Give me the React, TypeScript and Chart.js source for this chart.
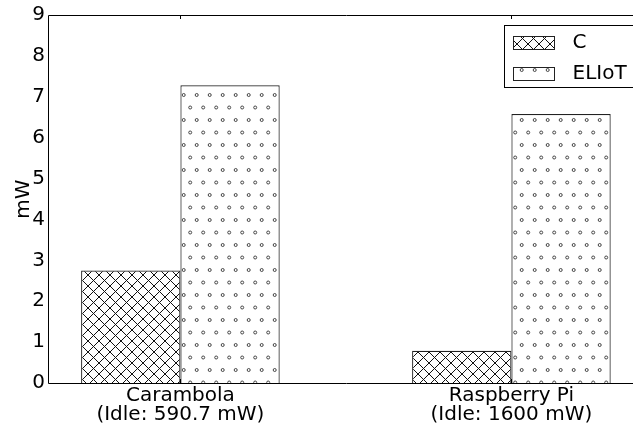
import React, { useEffect, useRef } from "react";
import { Chart, registerables } from "chart.js";

Chart.register(...registerables);

// ---- data ----
const categories: string[][] = [
  ["Carambola", "(Idle: 590.7 mW)"],
  ["Raspberry Pi", "(Idle: 1600 mW)"],
];
const categoryPositions = [0, 1];
const seriesNames = ["C", "ELIoT"];
const cValues = [2.75, 0.79];
const eliotValues = [7.28, 6.58];
const yTickValues = [0, 1, 2, 3, 4, 5, 6, 7, 8, 9];
const yAxisTitle = "mW";

const FONT = "'DejaVu Sans', 'Liberation Sans', sans-serif";

function makeCrossPattern(): CanvasPattern | string {
  const s = 11;
  const c = document.createElement("canvas");
  c.width = s;
  c.height = s;
  const g = c.getContext("2d");
  if (!g) return "#fff";
  g.fillStyle = "#fff";
  g.fillRect(0, 0, s, s);
  g.strokeStyle = "#111";
  g.lineWidth = 1;
  g.beginPath();
  g.moveTo(-1, -1);
  g.lineTo(s + 1, s + 1);
  g.moveTo(-1, s + 1);
  g.lineTo(s + 1, -1);
  g.stroke();
  return g.createPattern(c, "repeat") || "#fff";
}

function makeDotPattern(): CanvasPattern | string {
  const w = 13;
  const h = 25;
  const c = document.createElement("canvas");
  c.width = w;
  c.height = h;
  const g = c.getContext("2d");
  if (!g) return "#fff";
  g.fillStyle = "#fff";
  g.fillRect(0, 0, w, h);
  const dots = [
    [1.7, 20],
    [8.2, 7.5],
  ];
  g.strokeStyle = "#444";
  g.lineWidth = 1;
  for (const [dx, dy] of dots) {
    for (const ox of [-w, 0, w]) {
      for (const oy of [-h, 0, h]) {
        g.beginPath();
        g.arc(dx + ox, dy + oy, 1.5, 0, Math.PI * 2);
        g.fillStyle = "#fff";
        g.fill();
        g.stroke();
      }
    }
  }
  return g.createPattern(c, "repeat") || "#fff";
}

const framePlugin = {
  id: "frameAndLegend",
  afterDraw(chart: any) {
    const { ctx, chartArea } = chart;
    const { left, top, right, bottom } = chartArea;
    ctx.save();
    // frame
    ctx.strokeStyle = "#000";
    ctx.lineWidth = 1;
    ctx.beginPath();
    ctx.moveTo(Math.round(left) + 0.5, Math.round(bottom) + 0.5);
    ctx.lineTo(Math.round(left) + 0.5, Math.round(top) + 0.5);
    ctx.lineTo(Math.round(right) + 0.5, Math.round(top) + 0.5);
    ctx.lineTo(Math.round(right) + 0.5, Math.round(bottom) + 0.5);
    ctx.closePath();
    ctx.stroke();
    // x tick marks (inside)
    const xs = chart.scales.x;
    ctx.beginPath();
    for (const v of categoryPositions) {
      const px = Math.round(xs.getPixelForValue(v)) + 0.5;
      ctx.moveTo(px, top);
      ctx.lineTo(px, top + 4);
      ctx.moveTo(px, bottom);
      ctx.lineTo(px, bottom - 4);
    }
    ctx.stroke();

    // legend
    const lx = Math.round(right - 139.5) + 0.5;
    const ly = Math.round(top + 10) + 0.5;
    const lw = 200;
    const lh = 62;
    ctx.fillStyle = "#fff";
    ctx.fillRect(lx, ly, lw, lh);
    ctx.strokeStyle = "#000";
    ctx.strokeRect(lx, ly, lw, lh);
    const rowCenters = [ly + 17, ly + 48];
    chart.data.datasets.forEach((ds: any, i: number) => {
      const cy = rowCenters[i];
      const sx = lx + 9;
      const sy = Math.round(cy - 6.5) + 0.5;
      ctx.fillStyle = ds.backgroundColor;
      ctx.fillRect(sx, sy, 41, 13);
      ctx.strokeStyle = "#222";
      ctx.lineWidth = 1;
      ctx.strokeRect(sx, sy, 41, 13);
      ctx.fillStyle = "#000";
      ctx.font = `20px ${FONT}`;
      ctx.textBaseline = "middle";
      ctx.textAlign = "left";
      ctx.fillText(ds.label, lx + 68, cy);
    });
    ctx.restore();
  },
};

export default function App() {
  const ref = useRef<HTMLCanvasElement | null>(null);
  useEffect(() => {
    const canvas = ref.current;
    if (!canvas) return;
    const cross = makeCrossPattern();
    const dots = makeDotPattern();
    const chart = new Chart(canvas, {
      type: "bar",
      data: {
        datasets: [
          {
            label: seriesNames[0],
            data: categoryPositions.map((x, i) => ({ x, y: cValues[i] })),
            backgroundColor: cross as any,
            borderColor: "#222",
            borderWidth: 1.2,
            borderSkipped: "start",
            barPercentage: 1,
            categoryPercentage: 0.6,
          },
          {
            label: seriesNames[1],
            data: categoryPositions.map((x, i) => ({ x, y: eliotValues[i] })),
            backgroundColor: dots as any,
            borderColor: "#222",
            borderWidth: 1.2,
            borderSkipped: "start",
            barPercentage: 1,
            categoryPercentage: 0.6,
          },
        ] as any,
      },
      options: {
        animation: false,
        responsive: false,
        devicePixelRatio: 1,
        layout: { padding: { top: 14, right: 16.2, left: 0, bottom: 0 } },
        plugins: {
          legend: { display: false },
          tooltip: { enabled: false },
        },
        scales: {
          x: {
            type: "linear",
            min: -0.4,
            max: 1.4,
            offset: false,
            grid: { display: false, drawTicks: false },
            border: { display: false },
            afterBuildTicks: (scale: any) => {
              scale.ticks = categoryPositions.map((v) => ({ value: v }));
            },
            afterFit: (scale: any) => {
              scale.height = 50;
            },
            ticks: {
              autoSkip: false,
              maxRotation: 0,
              padding: 3,
              color: "#000",
              font: { family: FONT, size: 20, lineHeight: 0.975 },
              callback: (value: any) => {
                const idx = categoryPositions.indexOf(Number(value));
                return idx >= 0 ? categories[idx] : "";
              },
            },
          },
          y: {
            min: 0,
            max: 9,
            grid: { display: false, drawTicks: false },
            border: { display: false },
            afterBuildTicks: (scale: any) => {
              scale.ticks = yTickValues.map((v) => ({ value: v }));
            },
            afterFit: (scale: any) => {
              scale.width = 48;
            },
            ticks: {
              padding: 3,
              color: "#000",
              font: { family: FONT, size: 20 },
            },
            title: {
              display: true,
              text: yAxisTitle,
              color: "#000",
              font: { family: FONT, size: 20, lineHeight: 1.2 },
              padding: { top: 12, bottom: 0 },
            },
          },
        },
      } as any,
      plugins: [framePlugin],
    });
    return () => chart.destroy();
  }, []);

  return (
    <div
      style={{
        position: "absolute",
        left: 0,
        top: 0,
        width: 633,
        height: 433,
        overflow: "hidden",
        background: "#fff",
      }}
    >
      <canvas ref={ref} width={660} height={433} style={{ display: "block" }} />
    </div>
  );
}
